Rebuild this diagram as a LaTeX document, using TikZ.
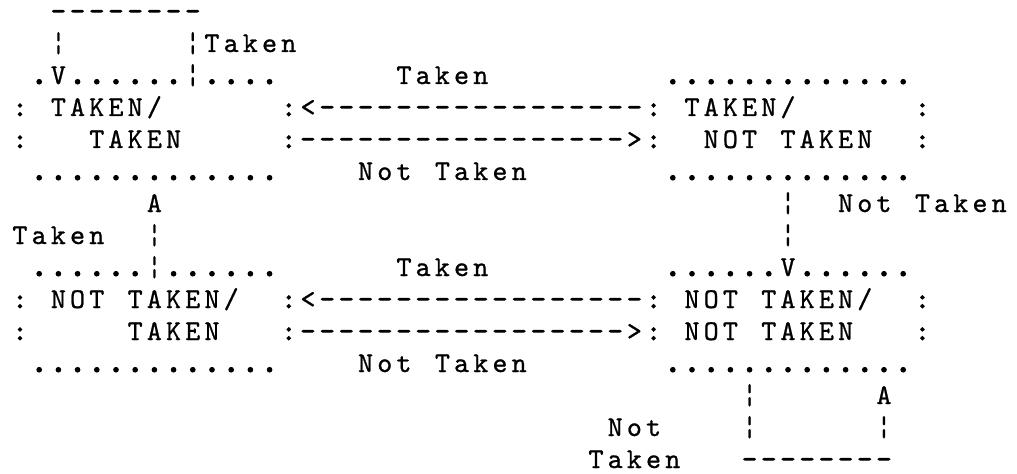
\documentclass[tikz,border=0pt]{standalone}
\usepackage{fontspec}
% typewriter face, lightly inked, and a heavier cut for frames and dashes
\newfontfamily\typeface{lmmono10-regular.otf}[FakeBold=0.8]
\newfontfamily\punctfont{lmmono10-regular.otf}[FakeBold=3]

% Every character sits in its own fixed 14.4pt cell, like a typewriter.
\makeatletter
\def\dotchr{.}\def\colchr{:}\def\dashchr{-}
\def\glyph{%
  \ifx\ch\dotchr{\punctfont\fontsize{27}{27}\selectfont.}%
  \else\ifx\ch\colchr{\punctfont:}%
  \else\ifx\ch\dashchr{\punctfont-}%
  \else\ch\fi\fi\fi}
\newcommand\spread[1]{\@tfor\ch:=#1\do{\makebox[14.4pt][c]{\glyph}}}
\makeatother

% A text run starts at column #2 of line #3 (cells 19.2 x 32 units).
\newcommand\cell[4]{%
  \node[glyphs] (#1) at ({10.4+19.2*#2},{20+32*#3}) {\spread{#4}};}

\tikzset{
  glyphs/.style={inner sep=0pt, outer sep=0pt, anchor=base west,
    font=\typeface\fontsize{21.5}{21.5}\selectfont}
}

\begin{document}
\begin{tikzpicture}[x=0.75pt,y=-0.75pt]
\useasboundingbox (0,0) rectangle (1017,474);

% self-loop on TAKEN/TAKEN
\cell{loopTT}{2}{0}{--------}
\cell{loopTTl}{2}{1}{¦}
\cell{loopTTr}{9}{1}{¦Taken}

% top row of states
\cell{ttTop}{1}{2}{.V......¦....}
\cell{tkTop}{20}{2}{Taken}
\cell{tnTop}{34}{2}{.............}

\cell{ttL1}{0}{3}{:}
\cell{ttA}{2}{3}{TAKEN/}
\cell{arrTop}{14}{3}{:<-----------------:}
\cell{tnA}{35}{3}{TAKEN/}
\cell{tnR1}{47}{3}{:}

\cell{ttL2}{0}{4}{:}
\cell{ttB}{4}{4}{TAKEN}
\cell{arrTopB}{14}{4}{:----------------->:}
\cell{tnB}{36}{4}{NOT~TAKEN}
\cell{tnR2}{47}{4}{:}

\cell{ttBot}{1}{5}{.............}
\cell{ntTop}{18}{5}{Not~Taken}
\cell{tnBot}{34}{5}{.............}

% vertical transitions
\cell{upA}{7}{6}{A}
\cell{dnR1}{40}{6}{¦}
\cell{ntRight}{43}{6}{Not~Taken}

\cell{tkLeft}{0}{7}{Taken}
\cell{upL}{7}{7}{¦}
\cell{dnR2}{40}{7}{¦}

% bottom row of states
\cell{ntTopL}{1}{8}{......¦......}
\cell{tkBot}{20}{8}{Taken}
\cell{nnTop}{34}{8}{......V......}

\cell{ntL1}{0}{9}{:}
\cell{ntA}{2}{9}{NOT~TAKEN/}
\cell{arrBot}{14}{9}{:<-----------------:}
\cell{nnA}{35}{9}{NOT~TAKEN/}
\cell{nnR1}{47}{9}{:}

\cell{ntL2}{0}{10}{:}
\cell{ntB}{6}{10}{TAKEN}
\cell{arrBotB}{14}{10}{:----------------->:}
\cell{nnB}{35}{10}{NOT~TAKEN}
\cell{nnR2}{47}{10}{:}

\cell{ntBot}{1}{11}{.............}
\cell{ntBotLbl}{18}{11}{Not~Taken}
\cell{nnBot}{34}{11}{.............}

% self-loop on NOT TAKEN/NOT TAKEN
\cell{loopNl1}{38}{12}{¦}
\cell{loopNA}{45}{12}{A}
\cell{loopNot}{31}{13}{Not}
\cell{loopNl2}{38}{13}{¦}
\cell{loopNr}{45}{13}{¦}
\cell{loopTk}{30}{14}{Taken}
\cell{loopN}{38}{14}{--------}
\end{tikzpicture}
\end{document}
